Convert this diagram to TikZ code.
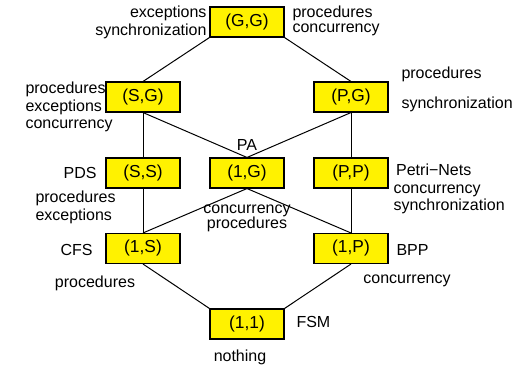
\documentclass[tikz,border=0pt]{standalone}
\usepackage{fontspec}
\setmainfont{Liberation Sans}
\usepackage{tikz}
\tikzstyle{cls}=[rectangle, draw, fill=yellow, line width=0.8pt, minimum width=55.5pt, minimum height=22.5pt, inner sep=0pt, font=\fontsize{13}{15}\selectfont]
\tikzstyle{lbl}=[inner sep=0pt, font=\fontsize{12}{13.2}\selectfont]
\tikzstyle{tight}=[font=\fontsize{12}{11.2}\selectfont]

\begin{document}
\begin{tikzpicture}[x=0.75pt, y=-0.75pt, line width=0.75pt]
                \useasboundingbox (0,0) rectangle (531,368);
                \node[cls] (gg) at (247, 22) {(G,G)};
                \node[cls] (sg) at (143, 97) {(S,G)};
                \node[cls] (pg) at (351, 97) {(P,G)};
                \node[cls] (ss) at (143, 173) {(S,S)};
                \node[cls] (og) at (247, 173) {(1,G)};
                \node[cls] (pp) at (351, 173) {(P,P)};
                \node[cls] (os) at (143, 248.5) {(1,S)};
                \node[cls] (op) at (351, 248.5) {(1,P)};
                \node[cls] (oo) at (247, 324) {(1,1)};
                \node[lbl, align=right, anchor=east] (gga) at (207, 22.5) {exceptions\\synchronization};
                \node[lbl, tight, align=left, anchor=west] (ggb) at (292, 20.5) {procedures\\concurrency};
                \node[lbl, align=left, anchor=west] (sga) at (25, 107) {procedures\\exceptions\\concurrency};
                \node[lbl, anchor=west] (pga) at (401, 74) {procedures};
                \node[lbl, anchor=west] (pgb) at (401, 104) {synchronization};
                \node[lbl] (oga) at (247, 145) {PA};
                \node[lbl, tight, align=center] (ogb) at (247, 218) {concurrency\\procedures};
                \node[lbl, anchor=east] (ssa) at (97, 173) {PDS};
                \node[lbl, align=left, anchor=west] (ssb) at (35, 207.5) {procedures\\exceptions};
                \node[lbl, align=left, anchor=west] (ppa) at (393, 189) {\hspace{2pt}Petri\textminus Nets\\concurrency\\synchronization};
                \node[lbl, anchor=east] (osa) at (93, 250) {CFS};
                \node[lbl] (osb) at (95, 283) {procedures};
                \node[lbl, anchor=west] (opa) at (396, 250) {BPP};
                \node[lbl] (opb) at (407, 281) {concurrency};
                \node[lbl, anchor=west] (ooa) at (296, 322) {FSM};
                \node[lbl] (oob) at (240, 357) {nothing};
                \draw (gg.south west)--(sg.north);
                \draw (gg.south east)--(pg.north);
                \draw (sg.south)--(ss.north);
                \draw (sg.south)--(og.north);
                \draw (pg.south)--(og.north);
                \draw (pg.south)--(pp.north);
                \draw (ss.south)--(os.north);
                \draw (og.south)--(os.north);
                \draw (og.south)--(op.north);
                \draw (pp.south)--(op.north);
                \draw (os.south)--(oo.north west);
                \draw (op.south)--(oo.north east);
            \end{tikzpicture}
\end{document}
